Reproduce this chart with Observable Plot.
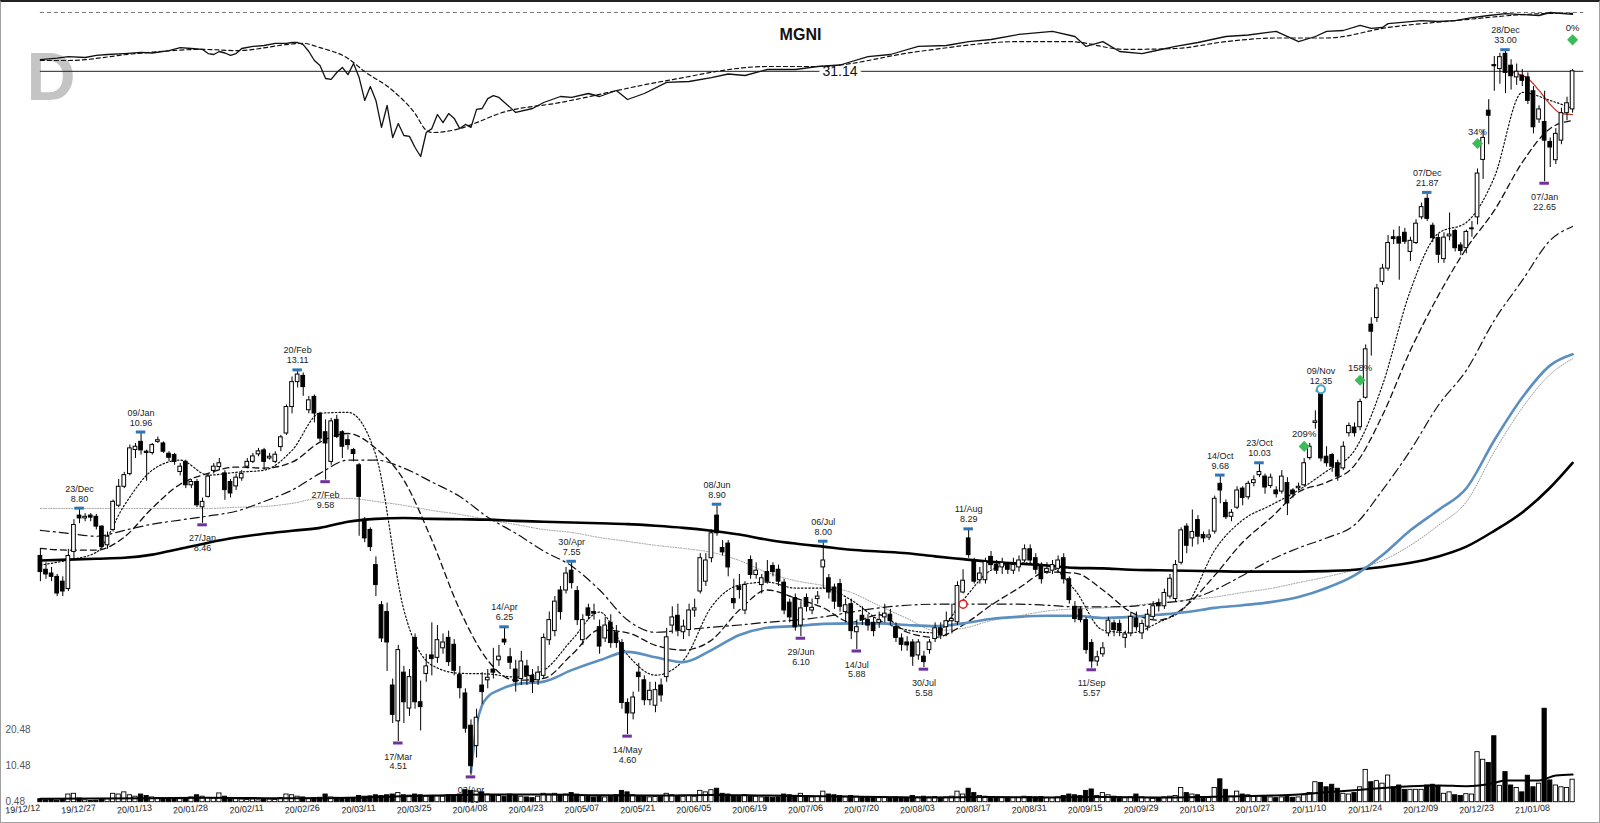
<!DOCTYPE html>
<html><head><meta charset="utf-8">
<script src="https://cdn.jsdelivr.net/npm/d3@7"></script>
<script src="https://cdn.jsdelivr.net/npm/@observablehq/plot@0.6"></script>
<style>
body{margin:0;background:#fff;}
#wrap{position:relative;width:1600px;height:823px;overflow:hidden;background:#fff;}
#wrap svg{position:absolute;left:0;top:0;}
#frame{position:absolute;left:0;top:0;width:1598px;height:820px;border-left:1px solid #a0a0a0;border-right:1px solid #a0a0a0;border-bottom:1px solid #a0a0a0;border-top:2px solid #222;}
</style></head>
<body><div id="wrap"><div id="frame"></div></div>
<script>
// ---- data ----
const open = [
7.70,7.40,7.32,7.25,7.15,7.00,7.79,8.65,8.58,8.65,
8.62,8.38,7.94,8.30,8.90,9.40,9.75,10.45,10.70,10.40,
10.36,10.70,10.65,10.34,10.30,9.81,10.10,9.44,9.53,8.86,
9.13,9.84,9.95,9.77,9.53,9.41,9.63,9.96,10.10,10.32,
10.44,10.20,10.10,10.54,10.96,11.83,12.71,12.94,11.72,12.18,
11.60,11.00,10.10,11.40,11.00,10.75,10.45,10.00,8.55,8.30,
7.50,6.68,6.55,5.30,4.78,5.50,4.96,6.08,5.05,5.48,
5.78,5.74,5.90,6.08,5.96,5.46,5.18,4.72,4.45,5.30,
5.38,5.55,5.70,6.05,5.75,5.55,5.40,5.60,5.45,5.38,
5.45,6.04,6.20,6.97,6.97,7.38,6.96,6.04,6.62,6.55,
6.27,6.07,6.35,6.17,5.99,5.04,4.89,5.50,5.38,5.08,
5.00,5.30,5.43,6.30,6.48,6.18,6.22,6.58,6.95,7.15,
7.65,8.65,7.88,7.98,6.80,7.05,6.58,7.61,7.29,7.08,
7.35,7.48,7.40,7.13,6.73,6.82,6.30,6.82,6.58,6.80,
7.45,7.22,7.03,7.10,6.55,6.70,6.18,6.48,6.40,6.35,
6.35,6.45,6.50,6.27,6.07,6.00,6.00,5.78,5.76,5.87,
6.06,6.25,6.27,6.38,6.36,6.93,8.10,7.57,7.18,7.18,
7.68,7.50,7.45,7.50,7.38,7.45,7.60,7.85,7.65,7.50,
7.35,7.38,7.42,7.65,7.20,6.65,6.60,6.40,5.99,5.68,
5.80,6.16,6.34,6.33,6.08,6.16,6.43,6.16,6.28,6.46,
6.72,6.66,6.85,6.80,7.55,8.38,8.10,8.54,8.18,8.12,
8.26,9.48,8.97,8.62,8.85,9.35,9.12,9.50,9.72,9.68,
9.42,9.30,9.27,9.50,9.30,9.36,9.44,10.21,11.30,12.30,
10.25,10.30,10.06,9.91,10.97,11.15,11.16,12.15,15.00,15.29,
16.97,17.63,19.30,19.30,19.55,18.50,18.98,20.44,21.56,19.95,
19.25,18.12,19.35,19.65,18.85,18.70,19.75,20.44,24.12,27.80,
31.70,31.34,32.75,31.65,30.60,30.75,30.60,29.40,27.10,26.90,
25.40,24.10,25.50,27.60,27.90];
const high = [
7.85,7.55,7.45,7.30,7.25,7.85,8.55,8.80,8.70,8.70,
8.68,8.40,8.25,9.05,9.60,9.80,10.60,10.65,10.96,10.45,
10.65,10.85,10.70,10.40,10.35,10.05,10.15,9.60,9.60,9.10,
9.75,10.05,10.20,9.85,9.60,9.75,9.85,10.20,10.35,10.50,
10.50,10.35,10.40,10.90,11.90,12.90,13.11,13.05,12.20,12.25,
11.65,11.40,11.45,11.55,11.05,10.90,10.50,10.05,8.60,8.35,
7.68,6.75,6.72,5.40,5.95,5.60,5.55,6.15,5.37,5.80,
6.35,6.30,6.15,6.20,6.05,5.60,5.25,4.80,4.95,5.50,
5.55,5.90,5.95,6.25,5.90,5.70,5.85,5.70,5.55,5.60,
6.15,6.55,6.85,7.05,7.45,7.55,7.05,6.50,6.70,6.70,
6.40,6.45,6.50,6.30,6.05,5.10,5.20,5.65,5.45,5.35,
5.35,5.40,6.25,6.65,6.70,6.40,6.70,6.80,7.75,7.75,
8.30,8.90,8.05,8.05,7.20,7.30,7.15,7.70,7.55,7.30,
7.60,7.55,7.50,7.20,6.80,6.90,6.75,6.90,6.80,6.95,
8.00,7.30,7.10,7.20,6.80,6.80,6.40,6.65,6.50,6.45,
6.55,6.70,6.60,6.35,6.15,6.10,6.05,6.05,5.85,6.05,
6.35,6.35,6.55,6.70,7.15,7.40,8.29,7.65,7.45,7.65,
7.80,7.60,7.65,7.55,7.65,7.70,7.95,7.95,7.75,7.55,
7.55,7.60,7.70,7.75,7.25,6.75,6.65,6.45,6.05,5.85,
6.00,6.45,6.40,6.40,6.20,6.55,6.55,6.40,6.60,6.75,
6.80,7.00,7.30,7.60,8.35,8.45,8.79,8.65,8.25,8.30,
9.15,9.68,9.05,8.80,9.40,9.40,9.55,9.70,10.03,9.75,
9.75,9.40,9.85,9.65,9.35,9.50,10.20,10.65,11.70,12.35,
10.55,10.35,10.15,10.70,11.30,11.30,12.10,14.15,15.30,16.85,
17.85,19.40,19.70,19.90,19.80,19.30,20.30,21.30,21.87,20.10,
19.45,19.55,20.70,19.75,19.00,19.70,20.20,23.50,26.30,28.70,
32.50,32.80,33.00,32.20,31.80,31.30,31.00,29.80,28.20,29.40,
25.70,26.40,28.00,28.90,31.30];
const low = [
7.15,7.20,7.15,6.85,6.85,6.95,7.60,8.45,8.50,8.50,
8.30,7.85,7.85,8.25,8.85,9.35,9.70,10.20,10.30,9.55,
10.30,10.65,10.35,10.10,10.00,9.70,9.35,9.35,8.85,8.46,
9.10,9.75,9.85,9.04,9.10,9.30,9.55,9.90,10.05,10.25,
9.86,10.15,10.05,10.40,10.90,11.60,12.50,12.20,11.60,11.30,
10.70,9.58,10.00,10.80,10.20,10.45,10.10,8.15,8.00,7.80,
6.85,6.00,5.52,4.75,4.51,4.75,4.85,4.95,4.65,5.35,
5.45,5.65,5.80,5.60,5.45,5.10,4.62,4.09,4.30,5.02,
5.25,5.40,5.60,5.95,5.55,5.20,5.30,5.30,5.18,5.30,
5.40,5.95,6.10,6.40,6.90,7.00,6.30,5.95,6.40,6.40,
5.80,6.00,5.90,5.90,4.95,4.60,4.80,5.20,5.00,5.00,
4.90,5.05,5.35,6.15,6.10,6.05,6.10,6.45,6.90,7.05,
7.55,8.15,7.70,7.25,6.60,6.80,6.50,7.20,7.20,6.90,
7.10,7.25,7.05,6.50,6.35,6.20,6.10,6.55,6.50,6.70,
7.00,6.80,6.60,6.55,6.35,6.05,5.88,6.30,6.20,6.10,
6.25,6.35,6.30,6.00,5.85,5.85,5.60,5.70,5.58,5.80,
6.00,6.05,6.10,6.15,6.30,6.90,7.65,7.10,7.10,7.10,
7.40,7.30,7.30,7.30,7.30,7.35,7.55,7.50,7.30,7.10,
7.30,7.30,7.35,7.10,6.70,6.35,6.35,5.80,5.57,5.60,
5.75,6.10,6.10,6.10,5.90,6.10,6.20,6.05,6.20,6.40,
6.55,6.60,6.80,6.75,7.50,7.75,7.90,7.95,8.00,8.05,
8.20,8.95,8.55,8.50,8.80,8.90,9.05,9.40,9.65,9.20,
9.35,9.10,9.20,8.65,9.10,9.30,9.40,10.15,11.10,10.10,
9.95,9.80,9.55,9.85,10.85,10.85,11.05,12.10,13.70,15.10,
16.80,17.50,18.90,17.05,18.90,18.00,18.90,20.30,20.20,19.00,
17.90,17.90,19.10,18.50,18.30,18.40,19.30,20.00,22.80,25.20,
29.40,30.00,29.20,29.50,29.90,29.80,28.30,26.00,26.80,22.65,
23.60,23.80,25.20,27.00,27.60];
const close = [
7.35,7.30,7.25,6.91,6.95,7.70,8.42,8.58,8.62,8.60,
8.38,7.90,8.14,9.00,9.40,9.72,10.50,10.55,10.44,10.36,
10.60,10.75,10.40,10.22,10.10,9.96,9.44,9.53,8.91,9.00,
9.68,9.96,10.06,9.31,9.22,9.65,9.75,10.10,10.26,10.41,
10.10,10.25,10.31,10.84,11.83,12.71,12.99,12.53,12.06,11.61,
10.80,10.65,11.35,10.85,10.55,10.60,10.33,9.13,8.10,7.90,
7.08,6.07,6.00,4.87,5.87,5.05,5.43,5.05,4.98,5.60,
5.72,6.04,6.00,5.67,5.53,5.26,4.68,4.20,4.83,5.20,
5.42,5.50,5.76,6.00,5.66,5.35,5.68,5.45,5.35,5.50,
6.08,6.40,6.75,6.55,7.32,7.12,6.40,6.40,6.48,6.52,
5.93,6.30,5.99,5.99,5.04,4.89,5.12,5.43,5.08,5.22,
5.23,5.15,6.09,6.45,6.22,6.28,6.58,6.62,7.65,7.60,
8.22,8.22,7.78,7.45,6.72,6.98,7.08,7.29,7.38,7.22,
7.15,7.35,7.15,6.58,6.45,6.27,6.62,6.65,6.63,6.85,
7.60,6.93,6.75,6.65,6.68,6.20,6.27,6.40,6.30,6.20,
6.40,6.52,6.38,6.08,5.96,5.95,5.76,6.00,5.67,6.00,
6.25,6.12,6.38,6.42,7.06,7.17,7.72,7.15,7.32,7.57,
7.50,7.38,7.55,7.40,7.50,7.60,7.85,7.60,7.40,7.20,
7.42,7.50,7.60,7.20,6.78,6.42,6.40,5.87,5.68,5.75,
5.90,6.39,6.22,6.20,6.14,6.46,6.27,6.33,6.50,6.66,
6.66,6.92,7.21,7.50,8.29,7.93,8.25,8.14,8.10,8.17,
9.08,9.30,8.61,8.72,9.30,9.10,9.48,9.58,9.81,9.38,
9.65,9.20,9.68,8.96,9.20,9.40,10.06,10.55,11.35,10.20,
10.06,9.96,9.68,10.55,11.20,10.97,12.00,13.97,14.70,16.65,
17.63,18.98,19.20,18.95,19.05,19.10,20.07,21.05,20.35,19.25,
18.35,19.28,19.45,18.70,18.55,19.60,19.80,23.19,25.70,27.40,
31.60,32.44,31.00,30.70,31.10,30.30,28.60,26.50,27.90,25.50,
25.00,26.00,27.60,28.40,31.14];
const volume = [
1.3,1.0,1.1,0.9,1.2,2.6,2.8,1.5,1.0,0.8,
0.9,1.1,1.3,2.8,2.6,3.2,2.4,2.0,2.6,2.2,
1.8,1.6,1.5,1.4,1.5,1.3,1.6,1.8,2.4,2.0,
1.6,1.5,2.9,2.0,1.6,1.3,1.2,1.1,1.2,1.0,
1.1,1.2,1.1,1.6,2.6,2.4,2.0,1.8,1.5,1.6,
1.7,2.6,1.8,1.7,1.6,1.5,1.6,2.2,2.0,2.1,
2.4,2.2,2.4,2.6,3.0,2.4,2.3,2.6,2.4,2.0,
2.2,2.1,2.0,2.4,2.3,2.6,3.8,3.6,3.4,3.2,
2.6,2.4,2.2,2.0,2.6,2.2,2.0,1.8,1.6,2.0,
2.8,2.6,2.8,2.4,2.6,3.0,2.6,2.2,1.9,1.8,
2.0,1.8,2.0,2.4,3.6,3.2,2.4,2.2,2.0,1.8,
1.9,2.0,2.8,2.4,2.2,2.0,2.2,2.0,3.6,3.2,
3.8,4.2,2.8,2.6,2.2,2.0,2.4,2.2,2.0,1.8,
1.8,1.7,1.8,2.6,2.4,2.2,2.8,2.0,1.8,1.9,
3.4,2.6,2.4,2.2,2.0,2.2,2.0,1.8,1.7,1.6,
1.6,1.7,1.6,1.8,1.7,1.6,2.2,1.8,2.0,1.8,
1.9,1.7,1.8,2.0,3.4,2.6,4.2,3.0,2.2,2.0,
1.8,1.7,1.6,1.5,1.6,1.7,2.0,1.9,1.8,1.9,
1.7,1.6,1.8,2.2,2.6,2.4,2.2,3.6,4.0,2.2,
3.0,2.4,2.0,1.8,1.6,1.8,2.6,1.8,1.6,1.4,
1.6,1.8,2.0,2.2,4.4,3.0,2.6,2.4,1.4,1.6,
4.4,6.8,3.9,2.0,3.4,2.6,2.4,2.0,2.2,2.0,
1.8,1.6,1.8,1.9,1.7,1.8,2.4,3.0,6.0,5.8,
4.6,5.3,4.2,2.8,2.6,3.0,4.6,9.4,6.0,6.3,
5.6,7.85,4.6,5.1,3.9,3.9,3.9,3.9,5.1,5.3,
4.8,2.8,3.2,2.4,2.2,2.7,2.6,14.3,12.2,11.3,
18.7,5.0,8.8,5.1,4.4,3.2,7.8,4.6,5.6,26.3,
6.5,5.1,4.6,4.4,6.7];

// moving averages read at every 5th bar
const maIdx = [0,5,10,15,20,25,30,35,40,45,50,55,60,65,70,75,80,85,90,95,100,105,110,115,120,125,130,135,140,145,150,155,160,165,170,175,180,185,190,195,200,205,210,215,220,225,230,235,240,245,250,255,260,265,270,274];
const ma10 = [7.50,7.61,7.78,8.91,9.86,10.15,9.72,9.80,9.86,10.44,11.62,11.65,10.29,6.59,5.62,5.49,5.48,5.43,5.54,6.04,6.55,5.79,5.46,5.70,6.65,7.08,7.14,7.02,7.02,6.78,6.40,6.22,6.17,6.78,7.39,7.55,7.50,6.98,6.22,6.17,6.36,6.68,7.83,8.54,8.91,9.31,9.83,10.44,12.60,16.56,19.52,20.14,22.94,29.30,28.63,27.98];
const ma20 = [7.87,7.83,7.83,8.13,8.84,9.47,9.77,9.95,9.92,10.09,10.69,10.96,10.50,9.58,8.06,6.59,5.70,5.38,5.41,5.79,6.22,6.17,5.95,5.87,6.04,6.59,6.98,6.82,6.63,6.36,6.50,6.18,6.09,6.31,6.68,7.02,7.35,7.33,6.98,6.55,6.40,6.68,7.28,8.01,8.59,9.26,9.52,10.00,11.55,13.93,16.32,18.69,20.85,23.95,26.41,27.03];
const ma50 = [8.29,8.22,8.15,8.29,8.44,8.54,8.64,8.76,9.01,9.31,9.77,10.15,10.15,9.92,9.53,9.14,8.61,8.22,7.81,7.48,6.98,6.40,6.18,6.22,6.27,6.31,6.36,6.40,6.46,6.55,6.63,6.68,6.70,6.70,6.70,6.70,6.68,6.65,6.65,6.66,6.72,6.78,6.98,7.28,7.61,7.88,8.11,8.42,9.31,10.44,11.89,13.15,15.19,17.04,19.13,19.91];
const ma100 = [8.83,8.83,8.83,8.83,8.83,8.83,8.83,8.86,8.88,8.96,9.09,9.09,9.01,8.91,8.78,8.68,8.55,8.43,8.31,8.24,8.12,8.03,7.94,7.87,7.78,7.60,7.34,7.17,7.07,6.93,6.67,6.43,6.21,6.25,6.39,6.48,6.57,6.61,6.63,6.67,6.73,6.78,6.84,6.93,7.01,7.13,7.25,7.40,7.60,7.94,8.41,9.00,10.40,11.80,13.00,13.60];
const ma200 = [7.60,7.62,7.64,7.66,7.73,7.86,8.00,8.12,8.21,8.28,8.35,8.50,8.57,8.59,8.57,8.56,8.55,8.52,8.50,8.48,8.46,8.44,8.40,8.35,8.28,8.19,8.07,7.98,7.91,7.84,7.80,7.76,7.69,7.63,7.57,7.53,7.49,7.44,7.43,7.40,7.39,7.38,7.37,7.36,7.36,7.36,7.37,7.40,7.46,7.55,7.69,7.91,8.28,8.73,9.38,10.07];
// anchored VWAP lines
const blueIdx = [77,78,79,80,82,85,90,95,100,105,110,115,120,125,130,135,140,145,150,155,160,165,170,175,180,185,190,195,200,205,210,215,220,225,230,235,240,245,250,255,260,265,270,274];
const blueVal = [4.13,4.73,5.01,5.13,5.23,5.32,5.36,5.54,5.70,5.84,5.75,5.67,5.87,6.13,6.26,6.29,6.33,6.34,6.34,6.31,6.29,6.34,6.42,6.46,6.48,6.48,6.44,6.46,6.50,6.55,6.63,6.68,6.74,6.84,7.02,7.28,7.72,8.29,8.79,9.36,10.75,12.16,13.34,13.77];
const redIdx = [262,264,266,268,270,272,274];
const redVal = [31.13,30.95,30.50,29.47,28.30,27.56,27.48];
// swing highs / lows
const hiIdx = [7,18,46,83,95,121,140,166,211,218,229,248,262];
const hiDate = ["23/Dec","09/Jan","20/Feb","14/Apr","30/Apr","08/Jun","06/Jul","11/Aug","14/Oct","23/Oct","09/Nov","07/Dec","28/Dec"];
const hiVal = [8.80,10.96,13.11,6.25,7.55,8.90,8.00,8.29,9.68,10.03,12.35,21.87,33.00];
const loIdx = [29,51,64,77,105,136,146,158,188,269];
const loDate = ["27/Jan","27/Feb","17/Mar","03/Apr","14/May","29/Jun","14/Jul","30/Jul","11/Sep","07/Jan"];
const loVal = [8.46,9.58,4.51,4.09,4.60,6.10,5.88,5.58,5.57,22.65];
// signals
const sigIdx = [226,236,257,274];
const sigVal = [10.56,12.78,25.29,34.1];
const sigLabel = ["209%","158%","34%","0%"];
const lastClose = 31.14;
// relative strength panel
const rsIdx = [0,3,5,8,10,12,15,18,20,23,25,27,29,30,31,32,33,34,35,36,38,40,42,44,45,46,47,48,49,50,51,52,53,54,55,56,57,58,59,60,61,62,63,64,65,66,67,68,69,70,71,72,73,74,75,76,77,78,79,80,81,82,85,88,90,93,95,98,100,103,105,108,112,116,120,123,126,130,135,139,143,148,152,157,162,166,170,175,181,185,187,190,193,197,200,203,207,212,216,221,225,228,230,233,236,238,240,241,244,247,250,253,256,259,262,265,268,270,274];
const rsVal = [84.3,84.8,85.3,85.0,85.7,86.0,86.3,86.7,86.5,87.3,88.3,88.0,87.7,86.3,86.0,87.0,86.5,85.7,86.3,88.0,88.7,89.0,89.7,89.7,90.0,90.0,89.3,87.0,84.0,82.3,78.0,77.7,80.0,81.7,79.3,83.0,78.3,70.7,75.3,70.7,61.7,69.0,58.3,63.0,59.0,58.7,55.0,52.0,60.0,61.3,66.0,63.3,66.3,64.7,61.3,62.7,61.7,67.7,68.0,71.3,72.3,71.7,66.7,68.0,70.0,72.0,71.7,73.0,72.0,74.0,71.0,73.0,76.7,77.0,78.3,79.5,79.0,81.0,81.0,82.0,82.5,85.3,86.0,88.7,89.0,90.3,91.0,92.7,93.7,92.0,88.7,90.3,87.0,86.3,87.5,88.7,90.0,92.0,92.5,93.7,90.3,92.0,93.7,94.0,95.7,94.7,95.0,96.3,96.8,97.3,97.0,97.3,98.3,99.0,99.6,99.3,99.0,100,99.4];
const rsMaIdx = [0,5,17,29,35,47,50,55,58,63,67,69,70,75,78,82,93,112,130,139,157,175,184,194,203,212,221,230,241,253,271,274];
const rsMaVal = [84.0,84.0,86.3,87.7,87.3,89.7,88.3,84.7,80.3,74.0,66.3,60.7,60.0,61.3,63.3,66.3,70.0,77.3,82.0,82.0,87.0,90.3,90.3,87.7,88.0,90.3,91.5,91.5,95.0,97.3,99.7,99.7];
const rsTop = 100;
// volume moving average
const volMaIdx = [0,10,20,30,40,50,60,70,80,90,100,110,120,130,140,150,160,170,180,190,200,210,220,225,230,235,240,245,250,255,260,262,268,271,274];
const volMaVal = [1.4,1.5,1.6,1.7,1.6,1.6,1.9,2.3,2.6,2.6,2.4,2.3,2.5,2.3,2.1,1.9,1.8,1.9,1.8,1.9,1.8,2.0,2.3,2.6,3.2,3.8,4.4,4.9,5.1,4.9,5.8,6.5,6.5,7.85,8.1];
const volTicks = [0.48,10.48,20.48];
const tickLabels = ["19/12/12","19/12/27","20/01/13","20/01/28","20/02/11","20/02/26","20/03/11","20/03/25","20/04/08","20/04/23","20/05/07","20/05/21","20/06/05","20/06/19","20/07/06","20/07/20","20/08/03","20/08/17","20/08/31","20/09/15","20/09/29","20/10/13","20/10/27","20/11/10","20/11/24","20/12/09","20/12/23","21/01/08"];
const ticker = "MGNI";

// ---- build ----
const N = close.length;
const bars = d3.range(N).map(i => ({i, o: open[i], h: high[i], l: low[i], c: close[i], v: volume[i], up: close[i] >= open[i]}));
const ser = (idx, vals) => idx.map((i, k) => ({i, v: vals[k]}));
const hi = hiIdx.map((i, k) => ({i, v: hiVal[k], d: hiDate[k]}));
const lo = loIdx.map((i, k) => ({i, v: loVal[k], d: loDate[k]}));
const sig = sigIdx.map((i, k) => ({i, v: sigVal[k], t: sigLabel[k]}));
const tickIdx = tickLabels.map((t, k) => k * 10);

const X = {domain: [0, 274], range: [39.9, 1572.1], axis: null};
const base = {width: 1600, height: 823, margin: 0,
  style: {background: "transparent", fontFamily: "'Liberation Sans', Arial, sans-serif", overflow: "visible"}};

const main = Plot.plot({...base, x: X,
  y: {type: "log", domain: [4.51, 33], range: [741, 50.7], axis: null},
  marks: [
    Plot.text(["D"], {frameAnchor: "top-left", dx: 26, dy: 51, textAnchor: "start", fontSize: 68, fontWeight: "bold", fill: "#c4c4c4"}),
    Plot.ruleY([lastClose], {x1: 0, x2: 276, stroke: "#222", strokeWidth: 1}),
    Plot.line(ser(maIdx, ma100), {x: "i", y: "v", stroke: "#9a9a9a", strokeWidth: 1, strokeDasharray: "1,1.6", curve: "monotone-x"}),
    Plot.line(ser(maIdx, ma50), {x: "i", y: "v", stroke: "#111", strokeWidth: 1.2, strokeDasharray: "9,4,2,4", curve: "monotone-x"}),
    Plot.line(ser(maIdx, ma20), {x: "i", y: "v", stroke: "#111", strokeWidth: 1.3, strokeDasharray: "6,4", curve: "monotone-x"}),
    Plot.line(ser(maIdx, ma10), {x: "i", y: "v", stroke: "#111", strokeWidth: 1.2, strokeDasharray: "1.5,2.2", curve: "monotone-x"}),
    Plot.line(ser(maIdx, ma200), {x: "i", y: "v", stroke: "#000", strokeWidth: 2.6, curve: "monotone-x"}),
    Plot.line(ser(blueIdx, blueVal), {x: "i", y: "v", stroke: "#5b8fbf", strokeWidth: 2.6, curve: "monotone-x"}),
    Plot.line(ser(redIdx, redVal), {x: "i", y: "v", stroke: "#c0392b", strokeWidth: 1.3, curve: "monotone-x"}),
    Plot.ruleX(bars, {x: "i", y1: "l", y2: "h", stroke: "#000", strokeWidth: 1}),
    Plot.rect(bars.filter(d => d.up), {x1: d => d.i - 0.33, x2: d => d.i + 0.33, y1: "o", y2: "c", fill: "#fff", stroke: "#000", strokeWidth: 1}),
    Plot.rect(bars.filter(d => !d.up), {x1: d => d.i - 0.33, x2: d => d.i + 0.33, y1: "o", y2: "c", fill: "#000", stroke: "#000", strokeWidth: 1}),
    Plot.ruleY(hi, {y: "v", x1: d => d.i - 0.85, x2: d => d.i + 0.85, stroke: "#2e75b6", strokeWidth: 3, dy: -1.5}),
    Plot.ruleY(lo, {y: "v", x1: d => d.i - 0.85, x2: d => d.i + 0.85, stroke: "#7030a0", strokeWidth: 3, dy: 1.5}),
    Plot.text(hi, {x: "i", y: "v", text: d => d.d + "\n" + d.v.toFixed(2), lineAnchor: "bottom", dy: -8, fontSize: 9, lineHeight: 1.1, fill: "#222"}),
    Plot.text(lo, {x: "i", y: "v", text: d => d.d + "\n" + d.v.toFixed(2), lineAnchor: "top", dy: 11, fontSize: 9, lineHeight: 1.1, fill: "#222"}),
    Plot.dot(sig, {x: "i", y: "v", symbol: "diamond2", r: 5, fill: "#3dbb5a"}),
    Plot.text(sig, {x: "i", y: "v", text: "t", dy: -12, fontSize: 9.5, fill: "#222"}),
    Plot.dot([{i: 165, v: 6.70}], {x: "i", y: "v", r: 4, stroke: "#e02020", strokeWidth: 1.6, fill: "#fff"}),
    Plot.dot([{i: 229, v: 12.45}], {x: "i", y: "v", r: 4, stroke: "#4aa8c8", strokeWidth: 2, fill: "#fff"}),
    Plot.text([lastClose], {x: 143, y: d => d, text: d => d.toFixed(2), fontSize: 14, fill: "#fff", stroke: "#fff", strokeWidth: 8}),
    Plot.text([lastClose], {x: 143, y: d => d, text: d => d.toFixed(2), fontSize: 14, fill: "#111"})
  ]
});

const rs = Plot.plot({...base, x: X,
  y: {domain: [50, 100], range: [162, 12], axis: null},
  marks: [
    Plot.ruleY([rsTop], {x1: 0, x2: 276, stroke: "#777", strokeWidth: 1, strokeDasharray: "4,3"}),
    Plot.line(ser(rsMaIdx, rsMaVal), {x: "i", y: "v", stroke: "#111", strokeWidth: 1.2, strokeDasharray: "4,3", curve: "monotone-x"}),
    Plot.line(ser(rsIdx, rsVal), {x: "i", y: "v", stroke: "#111", strokeWidth: 1.3}),
    Plot.text([ticker], {frameAnchor: "top", dy: 28, fontSize: 16, fontWeight: "bold", fill: "#111"})
  ]
});

const vol = Plot.plot({...base, x: X,
  y: {domain: [0.48, 20.48], range: [801.7, 729.3], axis: null},
  marks: [
    Plot.rect(bars.filter(d => d.up), {x1: d => d.i - 0.38, x2: d => d.i + 0.38, y1: 0.48, y2: "v", fill: "#fff", stroke: "#000", strokeWidth: 0.9}),
    Plot.rect(bars.filter(d => !d.up), {x1: d => d.i - 0.38, x2: d => d.i + 0.38, y1: 0.48, y2: "v", fill: "#000", stroke: "#000", strokeWidth: 0.9}),
    Plot.line(ser(volMaIdx, volMaVal), {x: "i", y: "v", stroke: "#000", strokeWidth: 2, curve: "monotone-x"}),
    Plot.text(volTicks, {y: d => d, text: d => d.toFixed(2), frameAnchor: "left", dx: 5, textAnchor: "start", fontSize: 10, fill: "#555"}),
    Plot.text(tickIdx, {x: d => d, text: (d, k) => tickLabels[k], frameAnchor: "bottom", dy: -13, textAnchor: "end", rotate: -5, fontSize: 9, fill: "#222"})
  ]
});

const wrap = document.getElementById("wrap");
const frame = document.getElementById("frame");
wrap.insertBefore(main, frame);
wrap.insertBefore(rs, frame);
wrap.insertBefore(vol, frame);
</script>
</body></html>
